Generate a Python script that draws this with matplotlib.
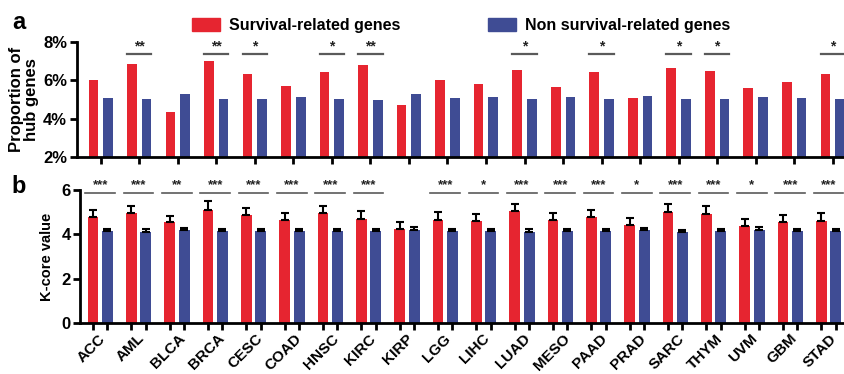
import matplotlib.pyplot as plt
import matplotlib.transforms as mtransforms
from matplotlib.patches import Patch
import numpy as np

plt.rcParams['font.family'] = ['Liberation Sans', 'DejaVu Sans']
plt.rcParams['font.weight'] = 'bold'

cancers = ['ACC', 'AML', 'BLCA', 'BRCA', 'CESC', 'COAD', 'HNSC', 'KIRC', 'KIRP', 'LGG',
           'LIHC', 'LUAD', 'MESO', 'PAAD', 'PRAD', 'SARC', 'THYM', 'UVM', 'GBM', 'STAD']

# proportion of hub genes (%)
hub_surv = [6.00, 6.86, 4.33, 7.02, 6.34, 5.69, 6.41, 6.79, 4.70, 6.02,
            5.80, 6.51, 5.64, 6.41, 5.08, 6.65, 6.50, 5.62, 5.90, 6.32]
hub_non = [5.06, 5.01, 5.27, 5.05, 5.05, 5.12, 5.05, 4.99, 5.26, 5.06,
           5.12, 5.03, 5.12, 5.05, 5.19, 5.01, 5.03, 5.12, 5.06, 5.05]
hub_sig = ['', '**', '', '**', '*', '', '*', '**', '', '',
           '', '*', '', '*', '', '*', '*', '', '', '*']

# k-core value, mean and error
kc_surv = [4.77, 4.96, 4.54, 5.10, 4.87, 4.63, 4.96, 4.69, 4.22, 4.66,
           4.62, 5.04, 4.65, 4.77, 4.40, 5.02, 4.93, 4.37, 4.57, 4.62]
kc_surv_err = [0.33, 0.33, 0.30, 0.39, 0.32, 0.35, 0.33, 0.35, 0.32, 0.33,
               0.31, 0.34, 0.31, 0.34, 0.34, 0.36, 0.33, 0.34, 0.30, 0.33]
kc_non = [4.15, 4.12, 4.18, 4.15, 4.15, 4.16, 4.13, 4.16, 4.21, 4.16,
          4.16, 4.12, 4.16, 4.15, 4.19, 4.10, 4.15, 4.21, 4.16, 4.16]
kc_non_err = [0.11, 0.11, 0.10, 0.10, 0.10, 0.10, 0.10, 0.10, 0.10, 0.10,
              0.10, 0.10, 0.10, 0.10, 0.10, 0.10, 0.10, 0.10, 0.10, 0.10]
kc_sig = ['***', '***', '**', '***', '***', '***', '***', '***', '', '***',
          '*', '***', '***', '***', '*', '***', '***', '*', '***', '***']

red = '#E62530'
blue = '#3F4C94'
grey = '#5a5a5a'

x = np.arange(len(cancers))

fig = plt.figure(figsize=(8.45, 3.74), dpi=100)

def style_axes(ax):
    for s in ['top', 'right']:
        ax.spines[s].set_visible(False)
    for s in ['left', 'bottom']:
        ax.spines[s].set_linewidth(2)
    ax.tick_params(width=2, length=5, labelsize=12, pad=2)

# ---- a ----
ax1 = fig.add_axes([0.091, 0.58, 0.909, 0.308])
w = 0.25
off = 0.19
ax1.bar(x - off, hub_surv, w, color=red)
ax1.bar(x + off, hub_non, w, color=blue)
ax1.set_ylim(2, 8)
ax1.set_xlim(-0.62, 19.32)
ax1.set_yticks([2, 4, 6, 8])
ax1.set_yticklabels(['2%', '4%', '6%', '8%'])
ax1.set_xticks(x)
ax1.set_xticklabels([])
style_axes(ax1)
ax1.set_ylabel('Proportion of\nhub genes', fontsize=12, fontweight='bold',
               linespacing=1.0, labelpad=3)
for i, s in enumerate(hub_sig):
    if s:
        ax1.plot([i - off - w / 2, i + off + w / 2], [7.37, 7.37], color=grey,
                 lw=1.6, clip_on=False)
        ax1.text(i, 7.42, s, ha='center', va='bottom', fontsize=10, color='#222222')

# ---- b ----
ax2 = fig.add_axes([0.095, 0.136, 0.905, 0.356])
w2 = 0.28
off2 = 0.19
ax2.bar(x - off2, kc_surv, w2, color=red)
ax2.bar(x + off2, kc_non, w2, color=blue)
ax2.errorbar(x - off2, kc_surv, yerr=[np.zeros(len(x)), kc_surv_err], fmt='none',
             ecolor='black', elinewidth=1.5, capsize=3, capthick=1.5)
ax2.errorbar(x + off2, kc_non, yerr=[np.zeros(len(x)), kc_non_err], fmt='none',
             ecolor='black', elinewidth=1.5, capsize=3, capthick=1.5)
ax2.set_ylim(0, 6)
ax2.set_xlim(-0.52, 19.43)
ax2.set_yticks([0, 2, 4, 6])
style_axes(ax2)
ax2.set_xticks(x)
ax2.set_xticklabels(cancers, rotation=45, fontsize=11, fontweight='bold')
ax2.tick_params(axis='x', which='major', length=0, pad=6)
# nudge the slanted names a little to the left
shift = mtransforms.ScaledTranslation(-6 / 72, 0, fig.dpi_scale_trans)
for lab in ax2.get_xticklabels():
    lab.set_transform(lab.get_transform() + shift)
ax2.set_xticks(np.concatenate([x - off2, x + off2]), minor=True)
ax2.tick_params(axis='x', which='minor', width=2, length=5)
ax2.set_ylabel('K-core value', fontsize=10.5, fontweight='bold', labelpad=5)
for i, s in enumerate(kc_sig):
    if s:
        ax2.plot([i - 0.39, i + 0.39], [5.88, 5.88], color=grey, lw=1.2, clip_on=False)
        ax2.text(i, 5.96, s, ha='center', va='bottom', fontsize=9.5, color='#222222')

fig.text(0.014, 0.922, 'a', fontsize=17, fontweight='bold')
fig.text(0.014, 0.484, 'b', fontsize=17, fontweight='bold')

handles = [Patch(color=red), Patch(color=blue)]
fig.legend(handles, ['Survival-related genes', 'Non survival-related genes'],
           loc='upper center', bbox_to_anchor=(0.546, 0.99), ncol=2, frameon=False,
           prop={'weight': 'bold', 'size': 11.5}, handlelength=1.7, handleheight=0.8,
           handletextpad=0.6, columnspacing=5.5)

fig.savefig('out.png', dpi=100)
